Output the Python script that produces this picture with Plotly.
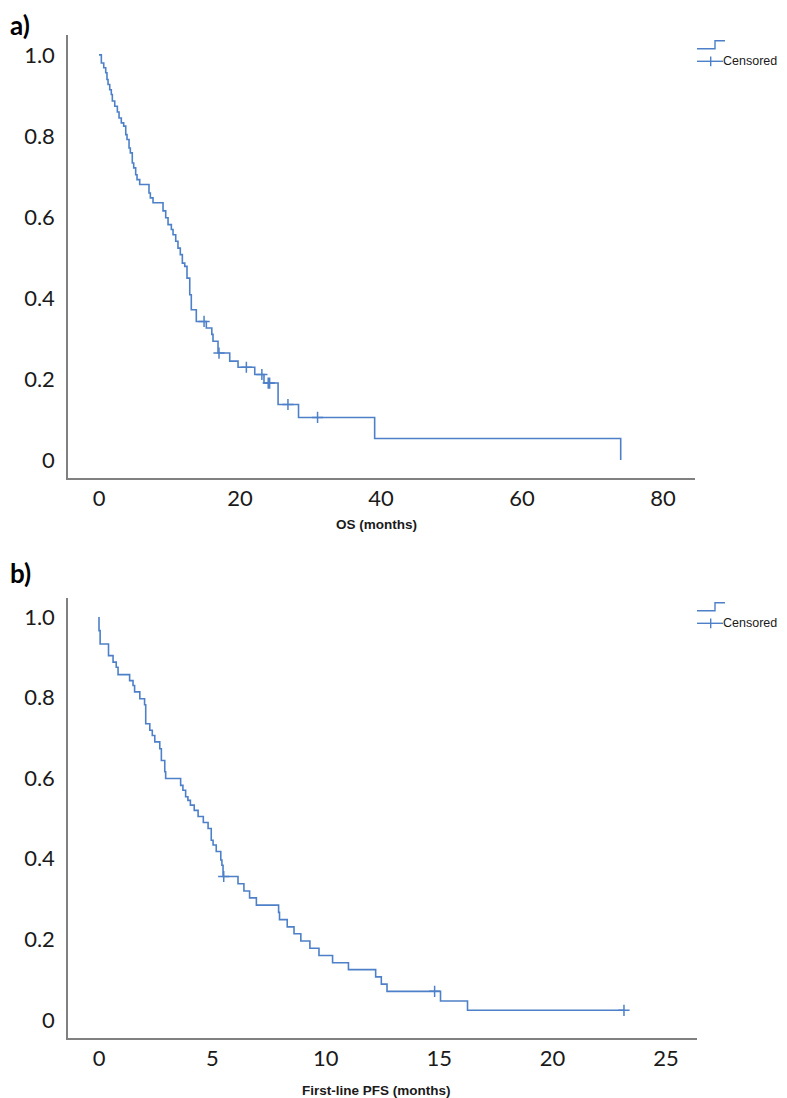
import plotly.graph_objects as go

W, H = 787, 1098

# ---------------- data ----------------
# a) Overall survival: step points (time in months, survival probability)
os_t = [0, 0.33, 0.67, 0.95, 1.13, 1.28, 1.52, 1.74, 1.89, 2.23, 2.6, 2.84,
        3.16, 3.5, 3.79, 3.97, 4.26, 4.44, 4.72, 4.92, 5.2, 5.39, 5.77, 7.09,
        7.28, 7.66, 9.08, 9.46, 9.79, 10.26, 10.5, 10.88, 11.2, 11.53, 11.82,
        12.16, 12.48, 12.87, 13.09, 13.8, 15.22, 16.0, 16.17, 16.88, 18.54,
        19.72, 22.09, 23.4, 25.4, 28.3, 39.1, 74.0]
os_s = [1.0, 0.980, 0.968, 0.956, 0.939, 0.927, 0.914, 0.902, 0.886, 0.873,
        0.859, 0.844, 0.832, 0.824, 0.803, 0.791, 0.770, 0.758, 0.733, 0.721,
        0.704, 0.692, 0.680, 0.659, 0.647, 0.635, 0.615, 0.598, 0.581, 0.569,
        0.556, 0.540, 0.523, 0.507, 0.486, 0.478, 0.449, 0.408, 0.371, 0.342,
        0.326, 0.310, 0.293, 0.264, 0.244, 0.229, 0.211, 0.190, 0.137, 0.105,
        0.053, 0.0]
os_cens_t = [14.9, 17.02, 20.9, 23.1, 24.0, 24.2, 26.8, 31.0]
os_cens_s = [0.342, 0.264, 0.229, 0.211, 0.190, 0.190, 0.137, 0.105]

# b) First-line progression-free survival
pfs_t = [0, 0.0, 0.05, 0.42, 0.62, 0.76, 0.84, 1.35, 1.5, 1.57, 1.8, 2.01,
         2.06, 2.24, 2.35, 2.46, 2.68, 2.75, 2.9, 2.94, 3.6, 3.7, 3.82, 3.92,
         4.03, 4.2, 4.37, 4.6, 4.81, 4.95, 5.03, 5.17, 5.37, 5.42, 5.47, 6.13,
         6.39, 6.64, 6.94, 7.92, 7.96, 8.3, 8.6, 8.9, 9.3, 9.7, 10.3, 11.0,
         12.2, 12.45, 12.7, 15.06, 16.25, 23.15]
pfs_s = [1.0, 0.966, 0.933, 0.904, 0.888, 0.875, 0.857, 0.842, 0.830, 0.814,
         0.797, 0.782, 0.735, 0.719, 0.706, 0.690, 0.673, 0.644, 0.616, 0.599,
         0.582, 0.570, 0.554, 0.545, 0.533, 0.520, 0.505, 0.490, 0.475, 0.446,
         0.434, 0.418, 0.397, 0.384, 0.356, 0.338, 0.320, 0.303, 0.285, 0.267,
         0.249, 0.231, 0.214, 0.196, 0.178, 0.160, 0.142, 0.125, 0.107, 0.089,
         0.071, 0.047, 0.024, 0.024]
pfs_cens_t = [5.5, 14.8, 23.15]
pfs_cens_s = [0.356, 0.071, 0.024]

y_tickvals = [0, 0.2, 0.4, 0.6, 0.8, 1.0]
y_ticktext = ["0", "0.2", "0.4", "0.6", "0.8", "1.0"]
os_xticks = [0, 20, 40, 60, 80]
pfs_xticks = [0, 5, 10, 15, 20, 25]

os_xlabel = "OS (months)"
pfs_xlabel = "First-line PFS (months)"
legend_label = "Censored"
panel_labels = ["a)", "b)"]

# ---------------- styling ----------------
BLUE = "#4d80c8"
AXIS = "#808080"
TXT = "#1a1a1a"


def px(X):
    return X / W


def py(Y):
    return 1 - Y / H


fig = go.Figure()

for t, s, ct, cs, xa, ya in [
    (os_t, os_s, os_cens_t, os_cens_s, "x", "y"),
    (pfs_t, pfs_s, pfs_cens_t, pfs_cens_s, "x2", "y2"),
]:
    fig.add_trace(go.Scatter(
        x=t, y=s, mode="lines", xaxis=xa, yaxis=ya,
        line=dict(shape="hv", color=BLUE, width=1.6),
        hoverinfo="skip", showlegend=False))
    fig.add_trace(go.Scatter(
        x=ct, y=cs, mode="markers", xaxis=xa, yaxis=ya,
        marker=dict(symbol="cross-thin", size=8, color=BLUE,
                    line=dict(width=1.5, color=BLUE)),
        hoverinfo="skip", showlegend=False))


def axis(domain, rng, tickvals, ticktext=None, anchor=None, standoff=None):
    d = dict(domain=domain, range=rng, showgrid=False, zeroline=False,
             showline=True, linecolor=AXIS, linewidth=1.5, ticks="",
             tickmode="array", tickvals=tickvals,
             tickfont=dict(family="Lato", size=22, color=TXT),
             fixedrange=True, anchor=anchor)
    if ticktext is not None:
        d["ticktext"] = ticktext
    if standoff is not None:
        d["ticklabelstandoff"] = standoff
    return d


fig.update_layout(
    width=W, height=H, autosize=False,
    margin=dict(l=0, r=0, t=0, b=0),
    paper_bgcolor="white", plot_bgcolor="white",
    showlegend=False,
    xaxis=axis([px(60), px(687)], [-4.40, 84.54], os_xticks, anchor="y",
               standoff=0),
    yaxis=axis([py(470), py(27)], [-0.0444, 1.049], y_tickvals, y_ticktext,
               anchor="x", standoff=7),
    xaxis2=axis([px(60), px(689)], [-1.367, 26.37], pfs_xticks, anchor="y2",
                standoff=0),
    yaxis2=axis([py(1030), py(590)], [-0.0447, 1.047], y_tickvals,
                y_ticktext, anchor="x2", standoff=7),
)

annotations = []
shapes = []
# axis titles
for label, Y in [(os_xlabel, 516), (pfs_xlabel, 1082)]:
    annotations.append(dict(
        text="<b>" + label + "</b>", xref="paper", yref="paper", x=px(368),
        y=py(Y), xanchor="center", yanchor="middle", showarrow=False,
        font=dict(family="Liberation Sans", size=13.5, color=TXT)))
# panel labels
for label, Y in zip(panel_labels, [17, 565]):
    annotations.append(dict(
        text="<b>" + label + "</b>", xref="paper", yref="paper", x=px(0),
        y=py(Y), xanchor="left", yanchor="middle", showarrow=False,
        font=dict(family="Lato", size=26, color="black")))
# legends
for dy in [0, 562]:
    shapes.append(dict(
        type="path", xref="paper", yref="paper",
        path="M {},{} H {} V {} H {}".format(
            px(689), py(40.7 + dy), px(707), py(32.7 + dy), px(717)),
        line=dict(color=BLUE, width=1.4)))
    shapes.append(dict(
        type="line", xref="paper", yref="paper",
        x0=px(689), x1=px(715), y0=py(53.3 + dy), y1=py(53.3 + dy),
        line=dict(color=BLUE, width=1.4)))
    shapes.append(dict(
        type="line", xref="paper", yref="paper",
        x0=px(702.7), x1=px(702.7), y0=py(48.5 + dy), y1=py(58.3 + dy),
        line=dict(color=BLUE, width=1.4)))
    annotations.append(dict(
        text=legend_label, xref="paper", yref="paper", x=px(714),
        y=py(53.3 + dy), xanchor="left", yanchor="middle", showarrow=False,
        borderpad=0, font=dict(family="Liberation Sans", size=12.5,
                               color=TXT)))

fig.update_layout(annotations=annotations, shapes=shapes)

fig.write_html("out.html", config={"displayModeBar": False})
